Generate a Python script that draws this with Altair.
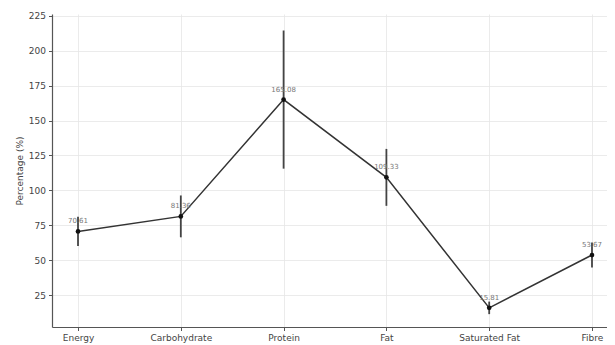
import altair as alt
import pandas as pd

nutrients = ["Energy", "Carbohydrate", "Protein", "Fat", "Saturated Fat", "Fibre"]
means = [70.61, 81.36, 165.08, 109.33, 15.81, 53.67]
errors = [10.5, 15.0, 49.5, 20.4, 4.5, 9.0]

df = pd.DataFrame({
    "Nutrient": nutrients,
    "Idx": list(range(len(nutrients))),
    "Mean": means,
    "Low": [m - e for m, e in zip(means, errors)],
    "High": [m + e for m, e in zip(means, errors)],
    "Label": [f"{m:.2f}" for m in means],
})

W, H = 555, 313
label_expr = "[" + ",".join(f"'{n}'" for n in nutrients) + "][datum.value]"
xscale = alt.Scale(domain=[-0.253, 5.146], nice=False, zero=False)
yscale = alt.Scale(domain=[2.1, 226.4], nice=False, zero=False)

xaxis = alt.Axis(title="Nutrient", values=list(range(len(nutrients))),
                 labelExpr=label_expr, labelOverlap=False, titleY=36)
yaxis = alt.Axis(title="Percentage (%)", labelOverlap=False,
                 values=[25, 50, 75, 100, 125, 150, 175, 200, 225])

x = alt.X("Idx:Q", scale=xscale, axis=xaxis)
y = alt.Y("Mean:Q", scale=yscale, axis=yaxis)

base = alt.Chart(df)

err = base.mark_rule(color="#444444", strokeWidth=1.8).encode(
    x=x, y=alt.Y("Low:Q", scale=yscale, axis=yaxis), y2="High:Q")
line = base.mark_line(color="#333333", strokeWidth=1.5).encode(x=x, y=y)
pts = base.mark_circle(color="#111111", size=22, opacity=1).encode(x=x, y=y)
txt = base.mark_text(dy=-10, fontSize=7, color="#777777", font="DejaVu Sans").encode(
    x=x, y=y, text="Label:N")

chart = alt.layer(err, line, pts, txt).properties(
    width=W, height=H,
    autosize=alt.AutoSizeParams(type="none"),
    padding={"left": 44, "top": 6, "right": 0, "bottom": 20},
).configure_view(stroke=None).configure_axis(
    labelFont="DejaVu Sans", titleFont="DejaVu Sans",
    labelFontSize=9, titleFontSize=9, titleFontWeight="normal",
    labelColor="#444444", titleColor="#444444",
    domainColor="#555555", domainWidth=1.2,
    tickColor="#555555", tickSize=3.5,
    gridColor="#e6e6e6", gridWidth=0.8,
    labelPadding=3,
)

chart.save("out.html", embed_options={"renderer": "svg", "actions": False})
